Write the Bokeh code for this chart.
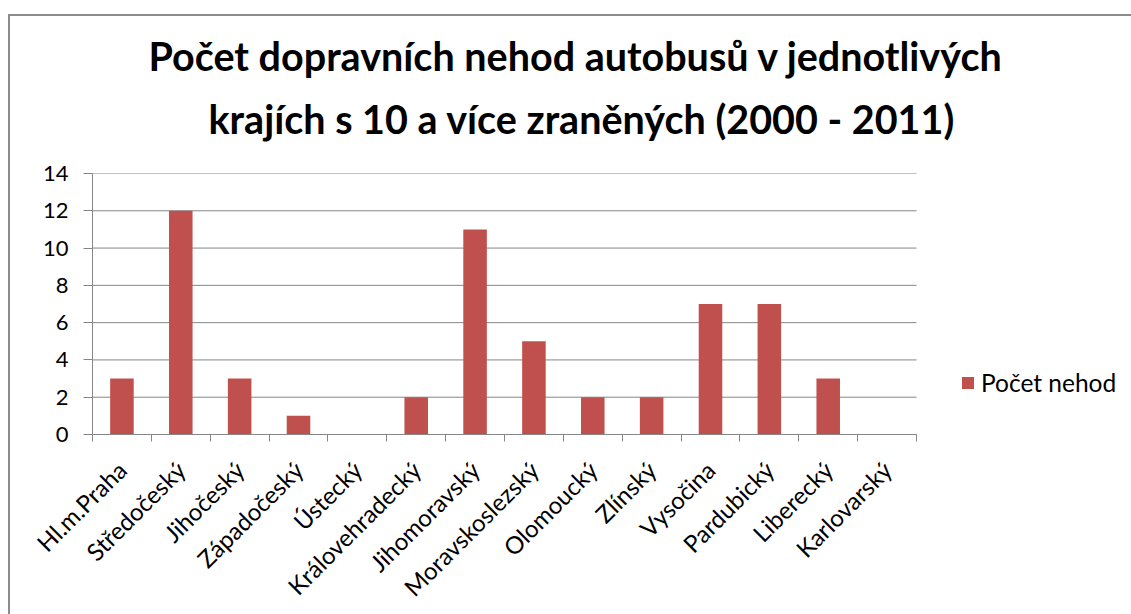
import math
from bokeh.plotting import figure
from bokeh.layouts import column
from bokeh.models import ColumnDataSource, FixedTicker, Legend, LegendItem, Range1d, Title
from bokeh.embed import file_html
from bokeh.resources import INLINE

regions = ["Hl.m.Praha", "Středočeský", "Jihočeský", "Západočeský", "Ústecký",
           "Královehradecký", "Jihomoravský", "Moravskoslezský", "Olomoucký",
           "Zlínský", "Vysočina", "Pardubický", "Liberecký", "Karlovarský"]
counts = [3, 12, 3, 1, 0, 2, 11, 5, 2, 2, 7, 7, 3, 0]
series_name = "Počet nehod"
title_lines = ["Počet dopravních nehod autobusů v jednotlivých",
               "krajích s 10 a více zraněných (2000 - 2011)"]
y_ticks = [0, 2, 4, 6, 8, 10, 12, 14]

FONT = "Lato"
GRAY = "#868686"
BAR = "#C0504D"

# layout (pixels)
W, H = 1121, 598
LEFT, TOP, BOTTOM, RIGHT = 82, 157, 179, 7
PLOT_W = 824                       # width of the category area
frame_w = W - LEFT - RIGHT
n = len(regions)
x_end = n * frame_w / PLOT_W       # frame extends right to hold the legend

centers = [i + 0.5 for i in range(n)]
src = ColumnDataSource(dict(x=centers, y=counts, name=regions))
grid_src = ColumnDataSource(dict(y=y_ticks, x0=[0] * len(y_ticks), x1=[n] * len(y_ticks)))

p = figure(width=W, height=H, output_backend="svg", toolbar_location=None,
           x_range=Range1d(0, x_end), y_range=Range1d(0, max(y_ticks)),
           min_border_left=LEFT, min_border_right=RIGHT, min_border_top=TOP,
           min_border_bottom=BOTTOM)
p.outline_line_color = None

p.segment(x0="x0", x1="x1", y0="y", y1="y", source=grid_src, line_color=GRAY, line_width=1)
r = p.vbar(x="x", top="y", width=0.4, source=src, fill_color=BAR, line_color=None)

# two title lines, each centred on the chart
p.title.text = title_lines[0]
t2 = Title(text=title_lines[1])
for t in (p.title, t2):
    t.text_font = FONT
    t.text_font_style = "bold"
    t.text_font_size = "39.5px"
    t.text_color = "black"
    t.align = "left"
p.title.offset = 56
t2.offset = 116
p.title.standoff = -37
t2.standoff = 64
p.add_layout(t2, "above")

p.xaxis.ticker = FixedTicker(ticks=centers, minor_ticks=list(range(n + 1)))
p.xaxis.bounds = (0, n)
p.xaxis.major_label_overrides = {c: s for c, s in zip(centers, regions)}
p.xaxis.major_label_orientation = math.pi / 4
p.xaxis.major_tick_line_color = None
p.xaxis.minor_tick_line_color = GRAY
p.xaxis.minor_tick_out = 7
p.xaxis.minor_tick_in = 0
p.xaxis.major_label_standoff = 24
p.xaxis.major_label_text_font_size = "24px"

p.yaxis.ticker = FixedTicker(ticks=y_ticks)
p.yaxis.major_tick_line_color = GRAY
p.yaxis.major_tick_out = 9
p.yaxis.major_tick_in = 0
p.yaxis.minor_tick_line_color = None
p.yaxis.major_label_standoff = 15
p.yaxis.major_label_text_font_size = "22px"

for ax in (p.xaxis, p.yaxis):
    ax.axis_line_color = GRAY
    ax.major_label_text_font = FONT
    ax.major_label_text_color = "black"

p.xgrid.grid_line_color = None
p.ygrid.grid_line_color = None

legend = Legend(items=[LegendItem(label=series_name, renderers=[r])],
                location=(868, 37), padding=0, margin=0, border_line_color=None,
                background_fill_alpha=0, label_text_font=FONT,
                label_text_font_size="24.5px", label_text_color="black",
                glyph_width=15, glyph_height=15, label_standoff=6)
p.add_layout(legend, "center")

layout = column(p, margin=(14, 0, 0, 8),
                styles={"border-top": "2px solid #8c8c8c",
                        "border-left": "2px solid #8c8c8c"})

open("out.html", "w").write(file_html(layout, INLINE))
